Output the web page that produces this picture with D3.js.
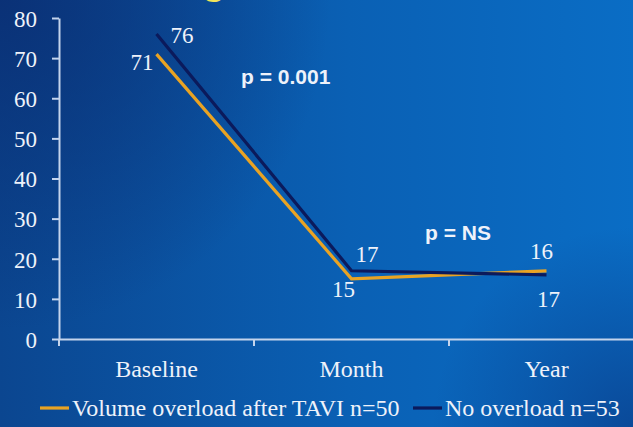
<!DOCTYPE html>
<html>
<head>
<meta charset="utf-8">
<script src="https://cdn.jsdelivr.net/npm/d3@7"></script>
<style>
  html, body { margin: 0; padding: 0; background: #0a4a9a; }
  svg { display: block; }
  .serif { font-family: "Liberation Serif", "Times New Roman", "DejaVu Serif", serif; }
  .sans { font-family: "Liberation Sans", Arial, sans-serif; font-weight: bold; }
</style>
</head>
<body>
<svg id="chart" width="633" height="427"></svg>
<script>
// Time points on the x axis
const categories = ["Baseline", "Month", "Year"];
// Series values (one per time point)
const overloadValues = [71, 15, 17];
const noOverloadValues = [76, 17, 16];
// Legend names
const seriesNames = ["Volume overload after TAVI n=50", "No overload n=53"];
// Y axis ticks
const yTicks = [0, 10, 20, 30, 40, 50, 60, 70, 80];
// Significance notes
const pNotes = ["p = 0.001", "p = NS"];

const W = 633, H = 427;
const svg = d3.select("#chart");

// ---- background ----
const defs = svg.append("defs");
const lg = defs.append("linearGradient").attr("id", "bg")
  .attr("x1", "0").attr("y1", "0").attr("x2", "1").attr("y2", "0");
lg.append("stop").attr("offset", "0").attr("stop-color", "#0b4690");
lg.append("stop").attr("offset", "0.55").attr("stop-color", "#0a60b4");
lg.append("stop").attr("offset", "1").attr("stop-color", "#0a6dc5");
const rg = defs.append("radialGradient").attr("id", "tl")
  .attr("gradientUnits", "userSpaceOnUse").attr("cx", 0).attr("cy", 0).attr("r", 330);
rg.append("stop").attr("offset", "0").attr("stop-color", "#0a2f74").attr("stop-opacity", 0.9);
rg.append("stop").attr("offset", "1").attr("stop-color", "#0a2f74").attr("stop-opacity", 0);
const rb = defs.append("radialGradient").attr("id", "br")
  .attr("gradientUnits", "userSpaceOnUse").attr("cx", W).attr("cy", H).attr("r", 200);
rb.append("stop").attr("offset", "0").attr("stop-color", "#0a3a86").attr("stop-opacity", 0.7);
rb.append("stop").attr("offset", "1").attr("stop-color", "#0a3a86").attr("stop-opacity", 0);

svg.append("rect").attr("width", W).attr("height", H).attr("fill", "url(#bg)");
svg.append("rect").attr("width", W).attr("height", H).attr("fill", "url(#tl)");
svg.append("rect").attr("width", W).attr("height", H).attr("fill", "url(#br)");

// slide title running off the top edge
svg.append("text").attr("class", "sans").attr("x", 214).attr("y", -6)
  .attr("text-anchor", "middle").attr("font-size", 40)
  .attr("fill", "#f2e45a").text("g");

// ---- scales ----
const axisColor = "#c4d4ec";
const textColor = "#eef2fa";

const x = d3.scaleBand().domain(categories).range([59, 644]);
const y = d3.scaleLinear().domain([0, 80]).range([339, 18]);
const cx = d => x(d) + x.bandwidth() / 2;

// ---- y axis ----
const yAxis = svg.append("g").attr("transform", "translate(59,0)")
  .call(d3.axisLeft(y).tickValues(yTicks).tickSize(7).tickSizeOuter(0).tickPadding(15));
yAxis.attr("font-family", null).attr("font-size", null);
yAxis.select(".domain").attr("stroke", axisColor).attr("stroke-width", 2);
yAxis.selectAll(".tick line").attr("stroke", axisColor).attr("stroke-width", 2);
yAxis.selectAll(".tick text").attr("class", "serif").attr("fill", textColor)
  .style("font-size", "23px").attr("dy", "0.36em");

// ---- x axis ----
const xAxis = svg.append("g").attr("transform", "translate(0,339)")
  .call(d3.axisBottom(x).tickSize(0).tickSizeOuter(0));
xAxis.attr("font-family", null).attr("font-size", null);
xAxis.select(".domain").attr("stroke", axisColor).attr("stroke-width", 2);
xAxis.selectAll(".tick text").attr("class", "serif").attr("fill", textColor)
  .style("font-size", "24px").attr("y", 38).attr("dy", 0);
// category boundary ticks
xAxis.selectAll(".bound").data(categories.map(c => x(c)).concat([x.range()[1]]))
  .join("line").attr("class", "bound")
  .attr("x1", d => d).attr("x2", d => d).attr("y1", 0).attr("y2", 7)
  .attr("stroke", axisColor).attr("stroke-width", 2);

// ---- lines ----
const series = [
  { name: seriesNames[0], values: overloadValues, color: "#e9a323" },
  { name: seriesNames[1], values: noOverloadValues, color: "#0b1a5c" }
];
const line = d3.line().x((d, i) => cx(categories[i])).y(d => y(d));
svg.selectAll(".series").data(series).join("path").attr("class", "series")
  .attr("d", s => line(s.values)).attr("fill", "none")
  .attr("stroke", s => s.color).attr("stroke-width", 3.2)
  .attr("stroke-linejoin", "miter");

// ---- value labels (offsets from each point: dx, dy, anchor) ----
const labelOffsets = [
  [[-3, 16, "end"], [-8, 18, "middle"], [2, 36, "middle"]],
  [[14, 9, "start"], [4, -9, "start"], [-5, -16, "middle"]]
];
series.forEach((s, si) => {
  s.values.forEach((v, i) => {
    const [dx, dy, anchor] = labelOffsets[si][i];
    svg.append("text").attr("class", "serif")
      .attr("x", cx(categories[i]) + dx).attr("y", y(v) + dy)
      .attr("text-anchor", anchor)
      .style("font-size", "23px").attr("fill", textColor)
      .text(v);
  });
});

// ---- significance notes ----
svg.append("text").attr("class", "sans").attr("x", 241).attr("y", 84)
  .style("font-size", "21px").attr("fill", textColor).text(pNotes[0]);
svg.append("text").attr("class", "sans").attr("x", 425).attr("y", 240)
  .style("font-size", "21px").attr("fill", textColor).text(pNotes[1]);

// ---- legend ----
const legendX = [40, 413];
const leg = svg.selectAll(".leg").data(series).join("g").attr("class", "leg")
  .attr("transform", (d, i) => `translate(${legendX[i]},408)`);
leg.append("line").attr("x1", 0).attr("x2", 29).attr("y1", 0).attr("y2", 0)
  .attr("stroke", d => d.color).attr("stroke-width", 3.2);
leg.append("text").attr("class", "serif").attr("x", 32).attr("y", 8)
  .style("font-size", "24px").attr("fill", textColor)
  .text(d => d.name);
</script>
</body>
</html>
